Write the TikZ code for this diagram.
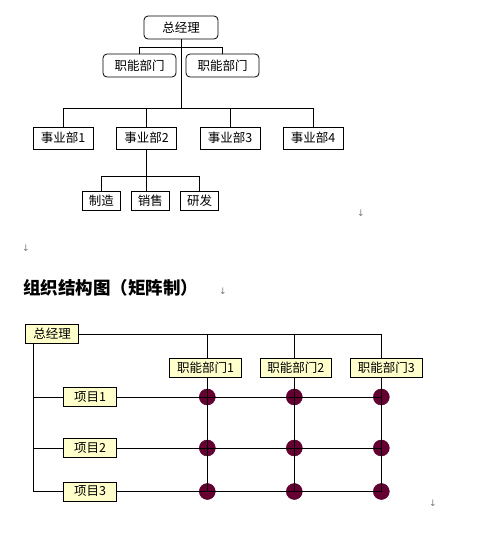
\documentclass[tikz,border=0pt]{standalone}
\usepackage{fontspec}
\setmainfont{Noto Sans CJK SC}
\newfontfamily\symfont{DejaVu Sans}
\definecolor{paleyellow}{HTML}{FFFFCC}
\definecolor{maroon}{HTML}{660033}
\definecolor{markgray}{HTML}{7A7A7A}
\begin{document}
\begin{tikzpicture}[x=1pt,y=-1pt,line width=0.8pt,
  txt/.style={font=\fontsize{12.5}{13}\selectfont},
  rbox/.style={txt,draw,rounded corners=4pt,inner sep=0pt,minimum height=23pt},
  sbox/.style={txt,draw,inner sep=0pt,minimum height=22pt,minimum width=60pt},
  subbox/.style={txt,draw,inner sep=0pt,minimum height=19pt,minimum width=38pt},
  ybox/.style={txt,draw,fill=paleyellow,inner sep=0pt,minimum height=19pt},
  dot/.style={circle,fill=maroon,draw=maroon!80!black,line width=0.5pt,inner sep=0pt,minimum size=16pt},
  parmark/.style={font=\symfont\fontsize{9}{10}\selectfont,text=markgray,inner sep=0pt}]
\useasboundingbox (0,0) rectangle (481,538);
% ---------- top chart ----------
\node[rbox,minimum width=74pt] (gm) at (181,27.5) {总经理};
\node[rbox,minimum width=73pt] (f1) at (139.5,65.5) {职能部门};
\node[rbox,minimum width=73pt] (f2) at (222.5,65.5) {职能部门};
\node[sbox] (b1) at (63,138) {事业部1};
\node[sbox] (b2) at (146.5,138) {事业部2};
\node[sbox] (b3) at (230,138) {事业部3};
\node[sbox] (b4) at (313,138) {事业部4};
\node[subbox] (s1) at (101.3,200.5) {制造};
\node[subbox] (s2) at (150.3,200.5) {销售};
\node[subbox] (s3) at (199.5,200.5) {研发};
\coordinate (st) at (181,47.7);
\coordinate (bus) at (181,108);
\coordinate (sb) at (146.5,176.7);
\draw (gm.south) -- (bus);
\draw (f1.north) |- (st) -| (f2.north);
\draw (b1.north) |- (b4.north |- bus) -- (b4.north);
\draw (b2.north) -- (b2.north |- bus);
\draw (b3.north) -- (b3.north |- bus);
\draw (b2.south) -- (b2.south |- s2.north);
\draw (s1.north) |- (s3.north |- sb) -- (s3.north);
% ---------- marks and title ----------
\node[parmark] (m1) at (361,213) {↓};
\node[parmark] (m2) at (26,248) {↓};
\node[anchor=west,inner sep=0pt,font=\fontsize{17.5}{19}\selectfont\bfseries] (title) at (23,288) {组织结构图（矩阵制）};
\node[parmark] (m3) at (223,291) {↓};
\node[parmark] (m4) at (433,503) {↓};
% ---------- matrix chart ----------
\node[ybox,minimum width=53pt] (mg) at (52,334) {总经理};
\node[ybox,minimum width=53pt] (p1) at (90,397) {项目1};
\node[ybox,minimum width=53pt] (p2) at (90,448) {项目2};
\node[ybox,minimum width=53pt] (p3) at (90,491.5) {项目3};
\node[ybox,minimum width=72pt] (k1) at (205.5,367.8) {职能部门1};
\node[ybox,minimum width=71pt] (k2) at (295.8,367.8) {职能部门2};
\node[ybox,minimum width=72pt] (k3) at (386.3,367.8) {职能部门3};
\coordinate (t1) at (207.3,334);
\coordinate (t2) at (294.3,334);
\coordinate (t3) at (381.3,334);
\coordinate (lt) at (33.5,343.5);
% dots first, lines drawn over them
\foreach \c in {1,2,3}{
  \foreach \r in {1,2,3}{
    \node[dot] (d\r\c) at (t\c |- p\r.east) {};
  }
}
\draw (mg.east) -- (t3) -- (t3 |- k3.north);
\draw (t1) -- (t1 |- k1.north);
\draw (t2) -- (t2 |- k2.north);
\draw (t1 |- k1.south) -- (t1 |- p3.east);
\draw (t2 |- k2.south) -- (t2 |- p3.east);
\draw (t3 |- k3.south) -- (t3 |- p3.east);
\draw (p1.east) -- (p1.east -| t3);
\draw (p2.east) -- (p2.east -| t3);
\draw (p3.east) -- (p3.east -| t3);
\draw (lt) |- (p3.west);
\draw (p1.west) -- (p1.west -| lt);
\draw (p2.west) -- (p2.west -| lt);
\end{tikzpicture}
\end{document}
